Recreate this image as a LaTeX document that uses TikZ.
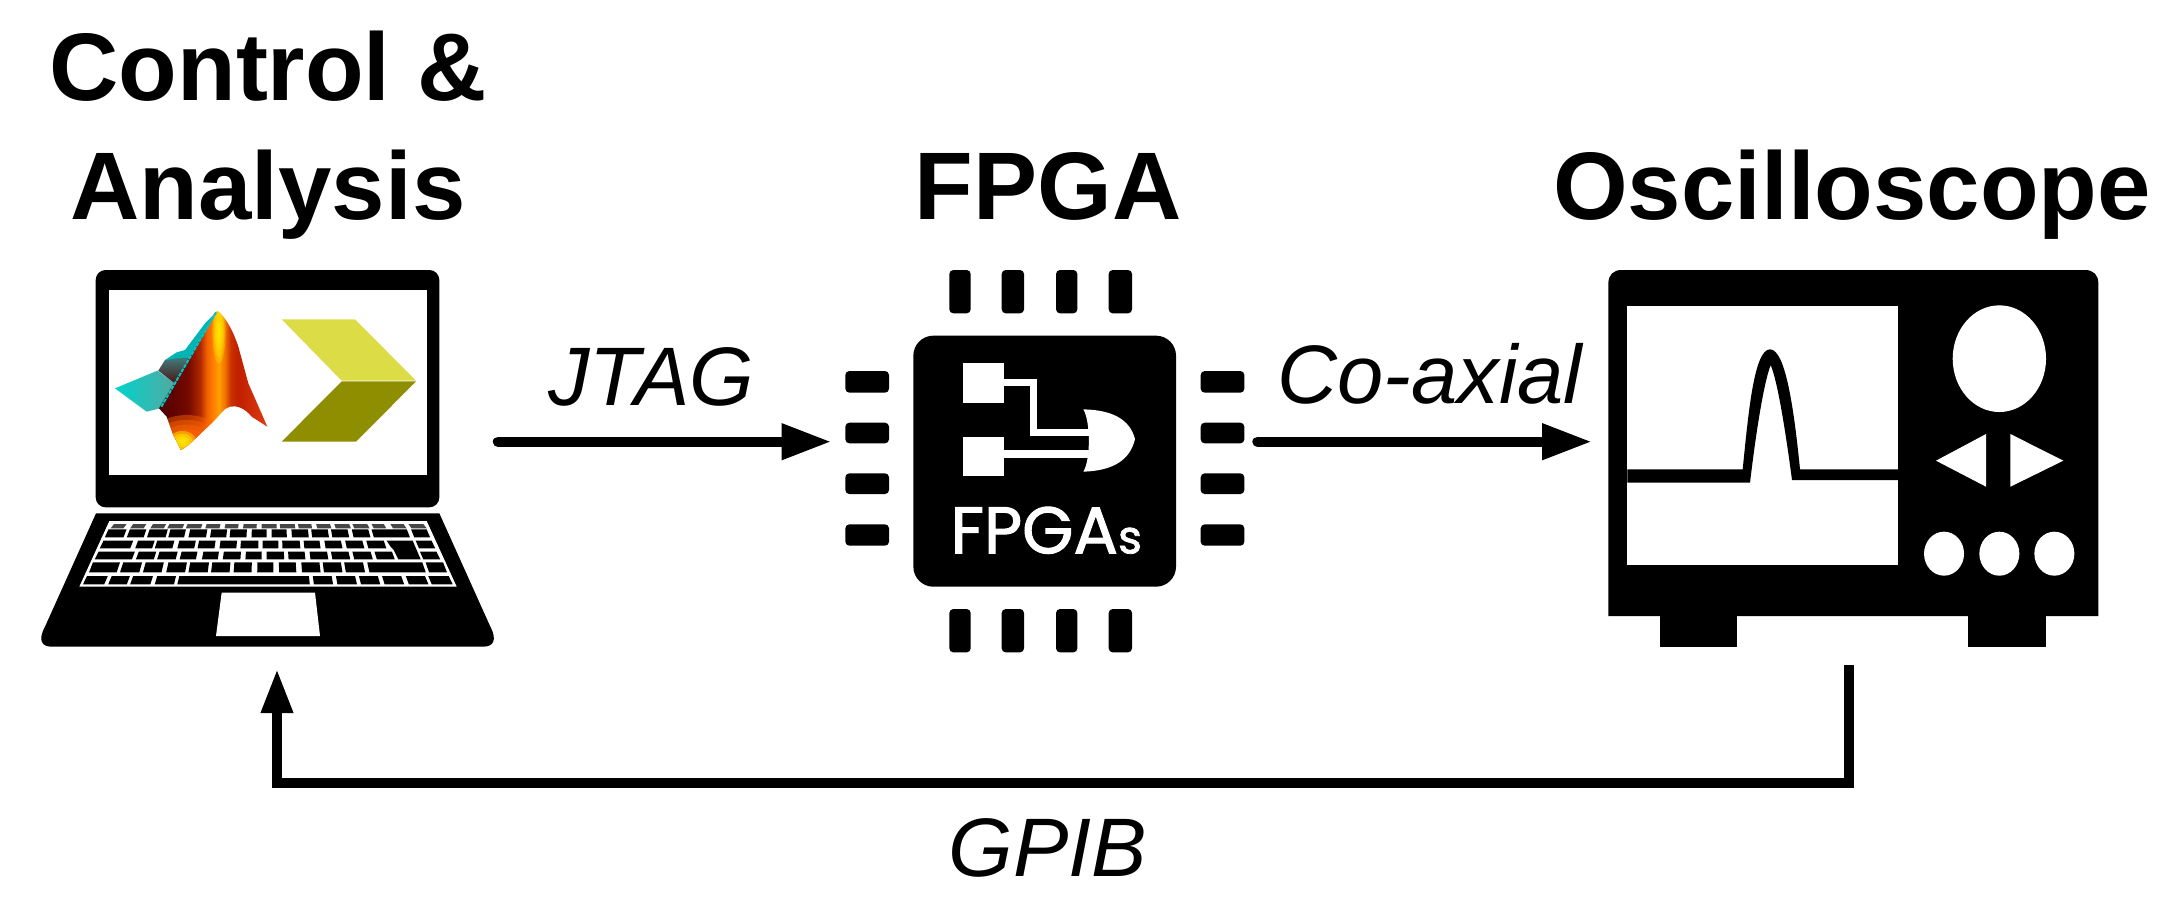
\documentclass[tikz,border=0pt]{standalone}
\usepackage{fontspec}
\setmainfont{Liberation Sans}
\newfontfamily\chipfont[FakeBold=1.6]{Poppins}
\usetikzlibrary{arrows.meta,shadings}
\definecolor{sA}{HTML}{4A0000}
\definecolor{sB}{HTML}{5E0200}
\definecolor{sC}{HTML}{750A00}
\definecolor{sD}{HTML}{B02800}
\definecolor{sE}{HTML}{F06000}
\definecolor{sF}{HTML}{FF8000}
\definecolor{sG}{HTML}{FFA000}
\definecolor{sH}{HTML}{F07000}
\definecolor{sI}{HTML}{C83000}
\definecolor{sJ}{HTML}{C02000}
\definecolor{sK}{HTML}{E03A10}
\pgfdeclarehorizontalshading{mlsurf}{100bp}{
  color(0bp)=(sA);color(25bp)=(sA);color(30.8bp)=(sB);color(38.5bp)=(sC);
  color(44bp)=(sD);color(47bp)=(sE);color(50bp)=(sF);color(52.7bp)=(sG);
  color(55.5bp)=(sH);color(58.2bp)=(sI);color(61.6bp)=(sJ);color(75bp)=(sK);
  color(100bp)=(sK)}
\definecolor{xtop}{HTML}{DCDC46}
\definecolor{xbot}{HTML}{8E8E00}
\definecolor{tealL}{HTML}{00D4CC}
\definecolor{tealR}{HTML}{55A8A0}
\definecolor{tealB}{HTML}{00B4B4}
\definecolor{tealE}{HTML}{00C4C8}
\definecolor{backT}{HTML}{3F8080}
\definecolor{backB}{HTML}{4A1010}
\tikzset{
  x=0.5pt,y=-0.5pt,
  heading/.style={anchor=base,inner sep=0pt,font=\fontsize{48}{50}\selectfont\bfseries},
  linklabel/.style={anchor=base,inner sep=0pt,font=\fontsize{41.5}{44}\selectfont\itshape},
  iconbox/.style={inner sep=0pt,outer sep=0pt,draw=none,fill=none},
  link/.style={line width=5.2pt,line cap=round,-{Triangle[length=25pt,width=17pt]}},
  gpiblink/.style={line width=4.8pt,line join=miter,-{Triangle[length=22pt,width=15pt]}},
  zoomed/.style={x=0.16667pt,y=-0.16667pt},
  pin/.style={fill=black,rounded corners=2pt},
}
\newcommand\keyrow[3]{\foreach \a/\b in {#3}{%
  \fill ({\a-(\a-565)*.011},#1) -- ({\b-(\b-565)*.011},#1) -- ({\b+(\b-565)*.011},#2) -- ({\a+(\a-565)*.011},#2) -- cycle;}}
\begin{document}
\begin{tikzpicture}
\fill[white] (0,0) rectangle (2182,900);
\useasboundingbox (0,0) rectangle (2182,900);

% ---- headings
\node[heading] (hctl) at (268,100) {Control \&};
\node[heading] (hana) at (268,219) {Analysis};
\node[heading] (hfpga) at (1048,219) {FPGA};
\node[heading] (hosc) at (1852,219) {Oscilloscope};

% ---- laptop
\begin{scope}[shift={(0,240)},zoomed]
  \fill[black,rounded corners=5pt] (287,90) rectangle (1318,802);
  \fill[white] (328,150) rectangle (1280,705);
  \fill[black] (288,820) -- (1318,820) -- (1471,1160)
     .. controls (1492,1200) and (1480,1220) .. (1450,1220) -- (155,1220)
     .. controls (125,1220) and (113,1200) .. (135,1160) -- cycle;
  \fill[white] (328,843) -- (1280,843) -- (1370,1040) -- (238,1040) -- cycle;
  \fill[white] (665,1058) -- (945,1058) -- (960,1188) -- (648,1188) -- cycle;
  \begin{scope}[shift={(240,795)}]
    \begin{scope}[black!72]
    \keyrow{57}{70}{97/135,155/195,215/255,265/310,320/365,378/420,435/475,490/530,545/590,600/645,655/695,710/752,765/810,820/865,878/915,935/975,990/1035}
    \end{scope}
    \keyrow{73}{97}{80/135,145/195,205/260,268/315,328/380,392/440,450/500,515/560,575/620,635/685,695/745,755/805,818/868,878/985,998/1045}
    \keyrow{107}{130}{65/155,170/220,228/280,295/345,355/405,420/470,482/535,548/595,607/660,672/720,735/785,798/850,862/915,1012/1060}
    \keyrow{140}{163}{50/160,172/225,235/290,302/350,368/415,430/482,497/545,560/612,625/675,690/743,755/808,820/875,887/940,1025/1075}
    \keyrow{172}{202}{33/115,125/182,193/248,262/318,328/385,395/450,462/515,532/580,597/648,665/720,730/785,795/852,865/1032,1042/1095}
    \keyrow{213}{238}{15/78,90/145,155/215,228/285,295/688,700/757,770/828,840/897,910/968,982/1040,1050/1112}
    \fill (920,107) -- (998,107) -- (1022,163) -- (955,163) -- (940,133) -- (932,125) -- cycle;
  \end{scope}
  % Xilinx-like chevron
  \fill[xtop] (845,238) -- (1065,238) -- (1248,422) -- (1025,422) -- cycle;
  \fill[xbot] (1025,424) -- (1248,424) -- (1068,605) -- (845,605) -- cycle;
  % MATLAB-like membrane
  \begin{scope}[shift={(315,180)}]
    \shade[left color=tealL,right color=tealR]
       (30,265) -- (157,212) -- (215,255) -- (165,325) -- (125,335) -- cycle;
    \shade[top color=backT,bottom color=backB]
       (160,212) -- (180,180) -- (215,172) -- (258,168) -- (215,255) -- cycle;
    \fill[tealB] (180,180) -- (215,157) -- (240,150) -- (300,70) -- (335,35) -- (258,172) -- (215,175) -- cycle;
    \begin{scope}
      \clip (338,33) .. controls (365,55) and (385,95) .. (400,140) -- (430,250) -- (487,380)
        -- (440,350) .. controls (420,325) and (395,315) .. (375,320)
        .. controls (355,325) and (345,345) .. (330,360) -- (250,435) -- (228,450) -- (205,405) -- (185,350) -- (162,325) -- (335,35) -- cycle;
      \shade[shading=mlsurf] (162,33) rectangle (487,450);
      % peak highlight
      \foreach \r in {1,.8,.6,.4,.2}{
        \fill[yellow,opacity=.3] (342,95) ellipse [x radius=\r*20,y radius=\r*95];}
      % lower front, running from dark red to orange to yellow
      \foreach \r in {1,.85,.7,.55}{
        \fill[orange!80!red,opacity=.45] (245,440) ellipse [x radius=\r*125,y radius=\r*95];}
      \foreach \r in {1,.75,.5,.25}{
        \fill[yellow,opacity=.45] (232,425) ellipse [x radius=\r*42,y radius=\r*32];}
    \end{scope}
    \draw[tealE,line width=1pt,dash pattern=on 2pt off .5pt] (333,37) -- (168,322);
  \end{scope}
\end{scope}

% ---- FPGA chip
\begin{scope}[shift={(820,240)},zoomed]
  \fill[black,rounded corners=10pt] (280,287) rectangle (1068,1040);
  \foreach \a/\b in {388/452,545/612,708/772,866/936}{
    \fill[pin] (\a,90) rectangle (\b,220);
    \fill[pin] (\a,1107) rectangle (\b,1237);}
  \foreach \a/\b in {393/458,548/610,700/762,853/917}{
    \fill[pin] (76,\a) rectangle (207,\b);
    \fill[pin] (1142,\a) rectangle (1273,\b);}
  \fill[white] (428,368) rectangle (552,490);
  \fill[white] (428,590) rectangle (552,708);
  \draw[white,line width=3.6pt] (552,428) -- (640,428) -- (640,577) -- (812,577);
  \draw[white,line width=3.6pt] (552,642) -- (812,642);
  \fill[white] (790,508) .. controls (880,510) and (930,540) .. (945,597)
     .. controls (930,660) and (880,692) .. (790,695)
     .. controls (812,660) and (812,545) .. (790,508) -- cycle;
  \node[anchor=base,inner sep=0pt,text=white,font=\chipfont\fontsize{33}{35}\selectfont] (chiptxt) at (679,940) {FPGA{\fontsize{23}{25}\selectfont s}};
\end{scope}

% ---- oscilloscope
\begin{scope}[shift={(1600,260)},zoomed]
  \fill[black] (25,1068) -- (25,70) .. controls (25,45) and (40,30) .. (65,30)
     -- (1455,30) .. controls (1480,30) and (1495,45) .. (1495,70) -- (1495,1068) -- cycle;
  \fill[black] (180,1060) rectangle (412,1160);
  \fill[black] (1105,1060) rectangle (1338,1160);
  \fill[white] (82,137) rectangle (895,915);
  \fill[black] (82,628) -- (428,628) .. controls (445,460) and (462,268) .. (510,268)
     .. controls (558,268) and (583,460) .. (600,628) -- (895,628) -- (895,660) -- (576,660)
     .. controls (560,540) and (535,370) .. (512,315)
     .. controls (490,370) and (465,540) .. (450,668) -- (82,668) -- cycle;
  \fill[white] (1198,296) ellipse [x radius=140,y radius=160];
  \fill[white] (1008,602) -- (1158,522) -- (1158,680) -- cycle;
  \fill[white] (1390,602) -- (1231,522) -- (1231,680) -- cycle;
  \foreach \c in {1032,1198,1363}{
    \fill[white] (\c,881) ellipse [x radius=60,y radius=66];}
\end{scope}

% ---- invisible extents used by the connectors
\node[iconbox,minimum width=228.5pt,minimum height=199.5pt] (laptop) at (269.5,469.5) {};
\node[iconbox,minimum width=213pt,minimum height=188pt] (fpga) at (1044.5,461) {};
\node[iconbox,minimum width=245pt,minimum height=197.5pt] (osc) at (1837,467.5) {};
\coordinate (row) at (0,441.7);
\coordinate (gpibR) at (1849,783);
\coordinate (gpibL) at (277,783);

% ---- connectors
\draw[link] (laptop.east |- row) -- (fpga.west |- row);
\draw[link] (fpga.east |- row) -- (osc.west |- row);
\draw[gpiblink] (osc.south -| gpibR) -- (gpibR) -- (gpibL) -- (laptop.south -| gpibL);

% ---- labels
\node[linklabel] (ljtag) at (651,405) {JTAG};
\node[linklabel] (lcoax) at (1430,403) {Co-axial};
\node[linklabel] (lgpib) at (1048,876) {GPIB};
\end{tikzpicture}
\end{document}
